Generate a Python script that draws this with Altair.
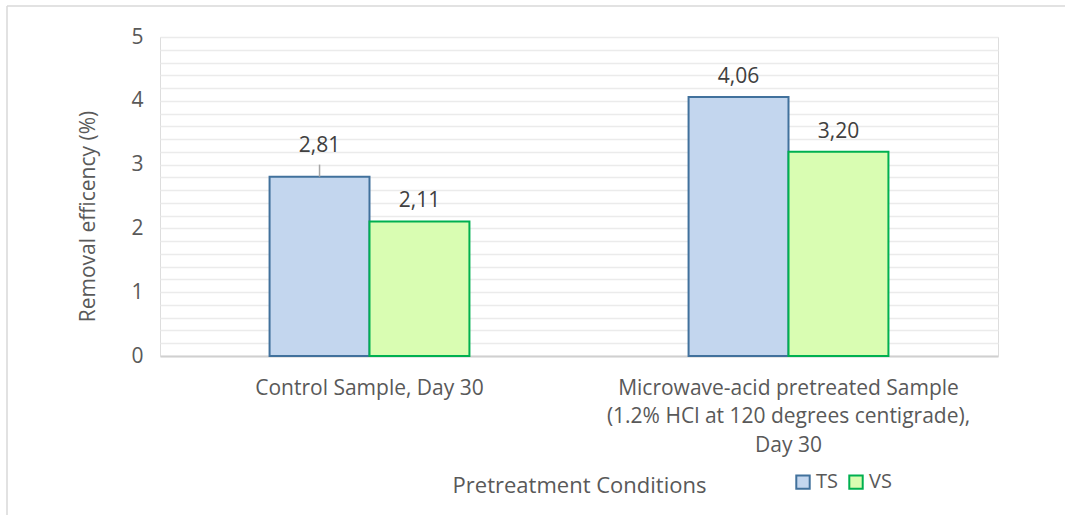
import altair as alt
import pandas as pd

categories = ["Control Sample, Day 30",
              "Microwave-acid pretreated Sample|(1.2% HCl at 120 degrees centigrade),|Day 30"]
series = ["TS", "VS"]
ts_values = [2.81, 4.06]
vs_values = [2.11, 3.20]
labels_ts = ["2,81", "4,06"]
labels_vs = ["2,11", "3,20"]

rows = []
for i, c in enumerate(categories):
    rows.append({"Category": c, "Series": "TS", "Value": ts_values[i], "Label": labels_ts[i], "Moved": i == 0})
    rows.append({"Category": c, "Series": "VS", "Value": vs_values[i], "Label": labels_vs[i], "Moved": False})
df = pd.DataFrame(rows)

FONT = "Open Sans"
fill_colors = ["#C3D6EE", "#D9FDB2"]
stroke_colors = ["#41719C", "#00B050"]

grid_vals = [round(i * 0.2, 1) for i in range(26)]

x_enc = alt.X("Category:N", sort=categories,
              scale=alt.Scale(paddingInner=0.523, paddingOuter=0.2615),
              axis=alt.Axis(title="Pretreatment Conditions", labelAngle=0,
                            labelExpr="split(datum.label, '|')", labelLimit=0,
                            labelLineHeight=28.5, labelFontSize=21, labelColor="#595959",
                            labelFont=FONT, labelPadding=21, ticks=False,
                            domainColor="#D0D0D0", domainWidth=2,
                            titleFont=FONT, titleFontSize=22, titleColor="#595959",
                            titleFontWeight="normal", titleBaseline="middle",
                            titleY=129))
xoff = alt.XOffset("Series:N", sort=series, scale=alt.Scale(paddingInner=0, paddingOuter=0))
y_enc = alt.Y("Value:Q", scale=alt.Scale(domain=[0, 5], nice=False),
              axis=alt.Axis(title="Removal efficency (%)", values=grid_vals,
                            labelExpr="datum.value % 1 == 0 ? format(datum.value, 'd') : ''",
                            ticks=False, domain=False, gridColor="#EBEBEB", gridWidth=1.6,
                            labelFontSize=21, labelColor="#595959", labelFont=FONT,
                            labelPadding=17, labelBaseline="middle",
                            titleFont=FONT, titleFontSize=21,
                            titleColor="#595959", titleFontWeight="normal", titlePadding=32,
                            titleY=179))

legend = alt.Legend(title=None, orient="none", direction="horizontal",
                    legendX=633, legendY=435, symbolType="square",
                    symbolSize=180, symbolStrokeWidth=2,
                    labelFontSize=20, labelFont=FONT, labelColor="#595959",
                    columnPadding=7, labelOffset=3)

base = alt.Chart(df)

bars = base.mark_bar(strokeWidth=2).encode(
    x=x_enc, xOffset=xoff, y=y_enc,
    fill=alt.Fill("Series:N", sort=series,
                  scale=alt.Scale(domain=series, range=fill_colors), legend=legend),
    stroke=alt.Stroke("Series:N", sort=series,
                      scale=alt.Scale(domain=series, range=stroke_colors), legend=legend),
)

text_normal = base.transform_filter("!datum.Moved").mark_text(
    dy=-20, fontSize=21, font=FONT, color="#404040", baseline="middle").encode(
    x=x_enc, xOffset=xoff, y=y_enc, text="Label:N")

text_moved = base.transform_filter("datum.Moved").mark_text(
    dy=-31, fontSize=21, font=FONT, color="#404040", baseline="middle").encode(
    x=x_enc, xOffset=xoff, y=y_enc, text="Label:N")

leader = base.transform_filter("datum.Moved").transform_calculate(
    Top="datum.Value + 0.19").mark_rule(color="#A6A6A6", strokeWidth=1.5).encode(
    x=x_enc, xOffset=xoff, y=y_enc, y2="Top:Q")

border_left = alt.Chart(pd.DataFrame({"a": [0]})).mark_rule(color="#D9D9D9", strokeWidth=1.5).encode(
    x=alt.value(-153), y=alt.value(-31), y2=alt.value(478))
border_top = alt.Chart(pd.DataFrame({"a": [0]})).mark_rule(color="#D9D9D9", strokeWidth=1.5).encode(
    x=alt.value(-153), x2=alt.value(905), y=alt.value(-31))

chart = alt.layer(bars, leader, text_normal, text_moved, border_left, border_top).properties(
    width=838, height=319,
    autosize=alt.AutoSizeParams(type="none"),
    padding={"left": 160, "top": 37, "right": 67, "bottom": 159},
).configure_view(stroke=None).configure(background="white")

chart.save("out.html", embed_options={"renderer": "svg", "actions": False})
